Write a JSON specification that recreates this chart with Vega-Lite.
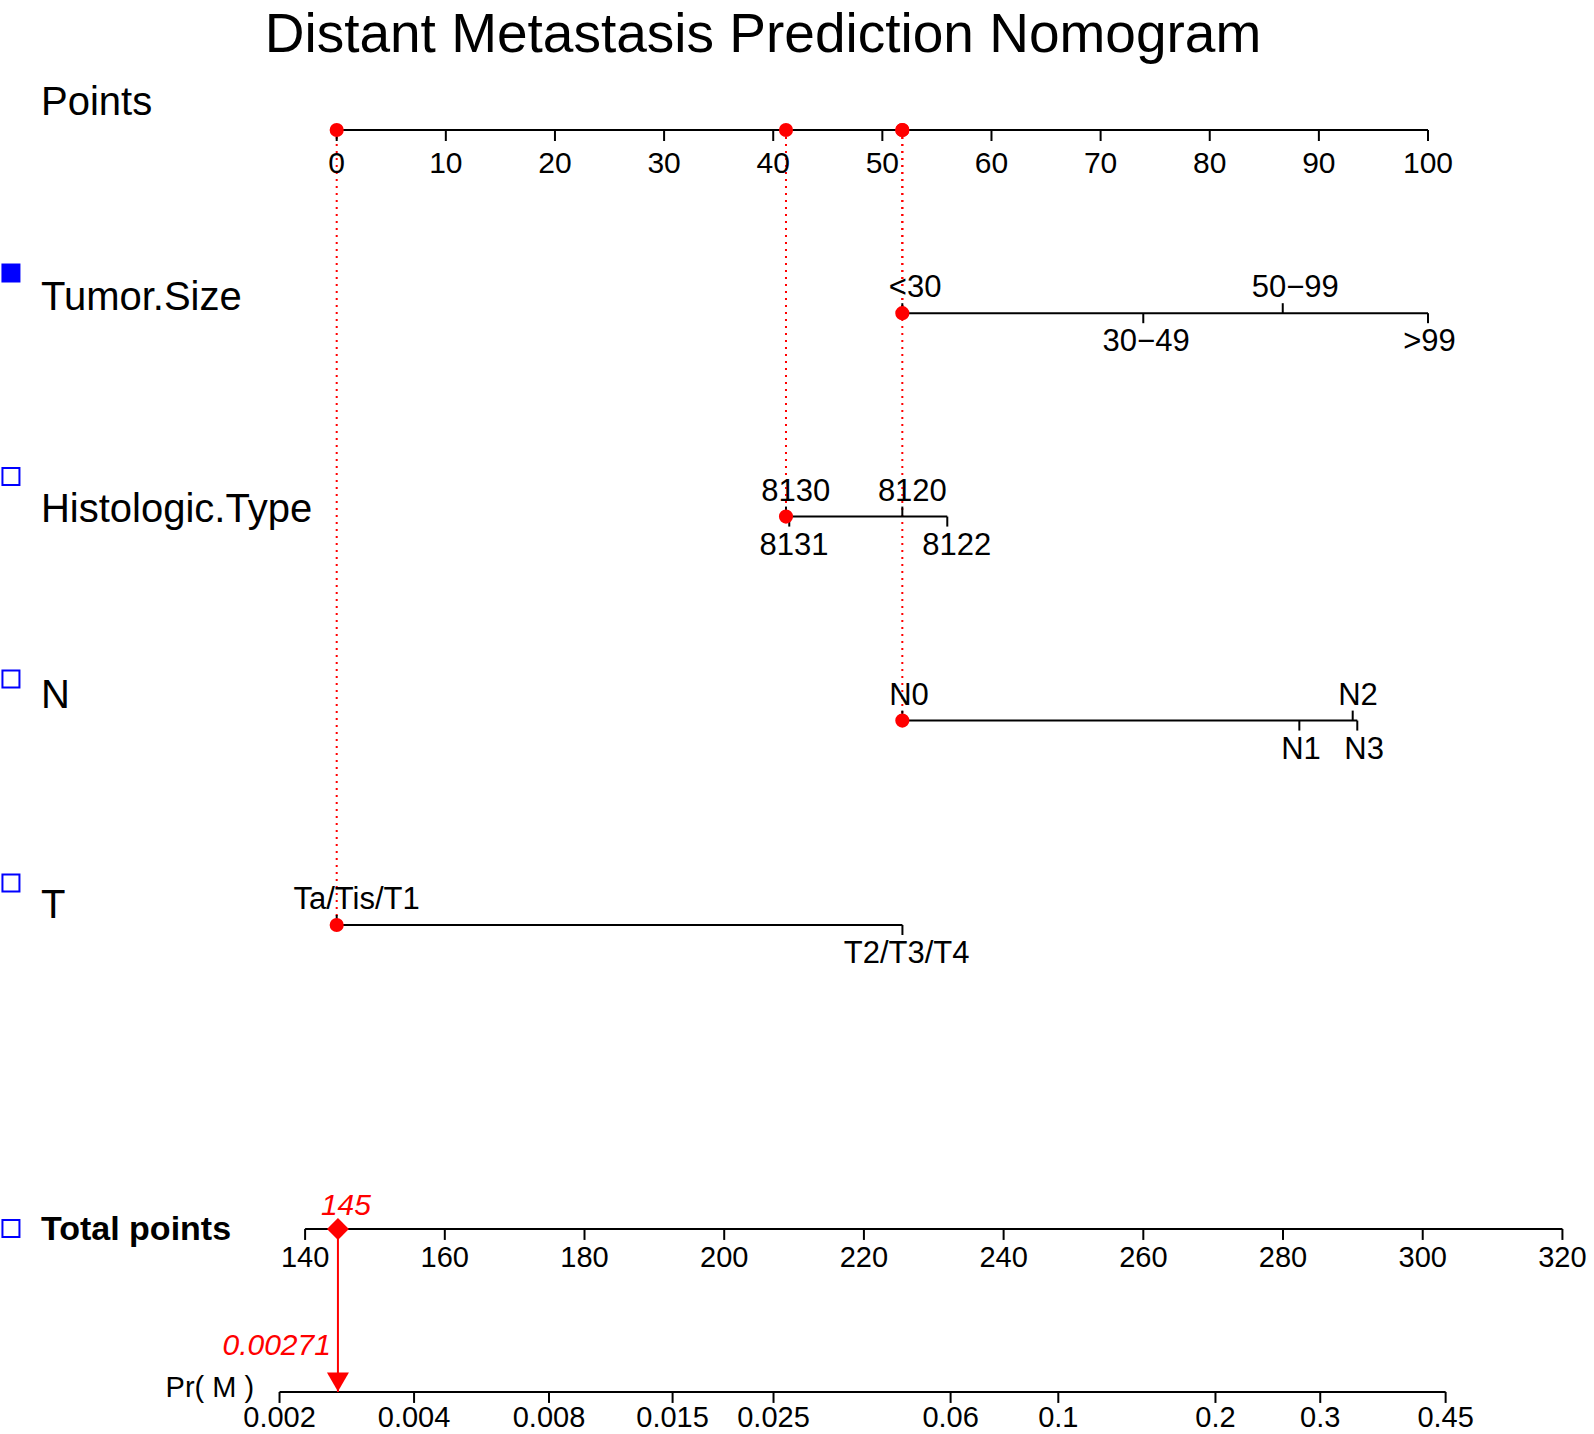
{
  "$schema": "https://vega.github.io/schema/vega-lite/v6.json",
  "width": 1594,
  "height": 1434,
  "autosize": {"type": "none"},
  "padding": 0,
  "background": "white",
  "config": {"view": {"stroke": null}, "font": "Liberation Sans", "text": {"font": "Liberation Sans"}},
  "datasets": {
    "heading": [{"x": 39.06, "level": -0.38, "text": "Distant Metastasis Prediction Nomogram"}],
    "names": [
      {"name": "Points", "x": -27.1, "level": -0.0735, "kind": "var"},
      {"name": "Tumor.Size", "x": -27.1, "level": 0.882, "kind": "var"},
      {"name": "Histologic.Type", "x": -27.1, "level": 1.92, "kind": "var"},
      {"name": "N", "x": -27.1, "level": 2.833, "kind": "var"},
      {"name": "T", "x": -27.1, "level": 3.863, "kind": "var"},
      {"name": "Total points", "x": -27.1, "level": 5.441, "kind": "total"},
      {"name": "Pr( M )", "x": -15.68, "level": 6.21, "kind": "outcome"}
    ],
    "boxes": [
      {"var": "Tumor.Size", "x": -29.85, "level": 0.701, "filled": "yes"},
      {"var": "Histologic.Type", "x": -29.85, "level": 1.699, "filled": "no"},
      {"var": "N", "x": -29.85, "level": 2.691, "filled": "no"},
      {"var": "T", "x": -29.85, "level": 3.691, "filled": "no"},
      {"var": "Total points", "x": -29.85, "level": 5.385, "filled": "no"}
    ],
    "pointsTicks": [
      {"points": 0, "level": 0}, {"points": 10, "level": 0}, {"points": 20, "level": 0},
      {"points": 30, "level": 0}, {"points": 40, "level": 0}, {"points": 50, "level": 0},
      {"points": 60, "level": 0}, {"points": 70, "level": 0}, {"points": 80, "level": 0},
      {"points": 90, "level": 0}, {"points": 100, "level": 0}
    ],
    "lines": [
      {"var": "Points", "from": 0, "to": 100, "level": 0},
      {"var": "Tumor.Size", "from": 51.83, "to": 100, "level": 0.898},
      {"var": "Histologic.Type", "from": 41.17, "to": 55.95, "level": 1.895},
      {"var": "N", "from": 51.83, "to": 93.52, "level": 2.895},
      {"var": "T", "from": 0, "to": 51.84, "level": 3.897}
    ],
    "categories": [
      {"var": "Tumor.Size", "label": "<30", "points": 51.83, "lx": 53.0, "side": "up", "level": 0.898},
      {"var": "Tumor.Size", "label": "30−49", "points": 73.91, "lx": 74.17, "side": "down", "level": 0.898},
      {"var": "Tumor.Size", "label": "50−99", "points": 86.69, "lx": 87.83, "side": "up", "level": 0.898},
      {"var": "Tumor.Size", "label": ">99", "points": 100, "lx": 100.14, "side": "down", "level": 0.898},
      {"var": "Histologic.Type", "label": "8130", "points": 41.17, "lx": 42.06, "side": "up", "level": 1.895},
      {"var": "Histologic.Type", "label": "8131", "points": 41.47, "lx": 41.9, "side": "down", "level": 1.895},
      {"var": "Histologic.Type", "label": "8120", "points": 51.83, "lx": 52.75, "side": "up", "level": 1.895},
      {"var": "Histologic.Type", "label": "8122", "points": 55.95, "lx": 56.81, "side": "down", "level": 1.895},
      {"var": "N", "label": "N0", "points": 51.83, "lx": 52.44, "side": "up", "level": 2.895},
      {"var": "N", "label": "N1", "points": 88.21, "lx": 88.36, "side": "down", "level": 2.895},
      {"var": "N", "label": "N2", "points": 93.1, "lx": 93.58, "side": "up", "level": 2.895},
      {"var": "N", "label": "N3", "points": 93.52, "lx": 94.15, "side": "down", "level": 2.895},
      {"var": "T", "label": "Ta/Tis/T1", "points": 0, "lx": 1.82, "side": "up", "level": 3.897},
      {"var": "T", "label": "T2/T3/T4", "points": 51.84, "lx": 52.22, "side": "down", "level": 3.897}
    ],
    "chosen": [
      {"var": "Tumor.Size", "points": 51.83, "level": 0.898, "top": 0},
      {"var": "Histologic.Type", "points": 41.17, "level": 1.895, "top": 0},
      {"var": "N", "points": 51.83, "level": 2.895, "top": 0},
      {"var": "T", "points": 0, "level": 3.897, "top": 0}
    ],
    "scales": [
      {"scale": "Total points", "from": 140, "to": 320, "level": 5.387},
      {"scale": "Pr( M )", "from": 136.34, "to": 303.28, "level": 6.186}
    ],
    "totalTicks": [
      {"total": 140, "level": 5.387}, {"total": 160, "level": 5.387}, {"total": 180, "level": 5.387},
      {"total": 200, "level": 5.387}, {"total": 220, "level": 5.387}, {"total": 240, "level": 5.387},
      {"total": 260, "level": 5.387}, {"total": 280, "level": 5.387}, {"total": 300, "level": 5.387},
      {"total": 320, "level": 5.387}
    ],
    "prTicks": [
      {"pr": "0.002", "total": 136.34, "level": 6.186}, {"pr": "0.004", "total": 155.6, "level": 6.186},
      {"pr": "0.008", "total": 174.92, "level": 6.186}, {"pr": "0.015", "total": 192.61, "level": 6.186},
      {"pr": "0.025", "total": 207.06, "level": 6.186}, {"pr": "0.06", "total": 232.41, "level": 6.186},
      {"pr": "0.1", "total": 247.83, "level": 6.186}, {"pr": "0.2", "total": 270.33, "level": 6.186},
      {"pr": "0.3", "total": 285.33, "level": 6.186}, {"pr": "0.45", "total": 303.28, "level": 6.186}
    ],
    "result": [
      {"total": 144.7, "level": 5.387, "level2": 6.186, "score": "145", "prob": "0.00271"}
    ]
  },
  "encoding": {
    "y": {"field": "level", "type": "quantitative", "scale": {"domain": [-0.63725, 6.39216], "reverse": true, "nice": false, "zero": false}, "axis": null}
  },
  "layer": [
    {
      "layer": [
        {
          "data": {"name": "heading"},
          "mark": {"type": "text", "fontSize": 55, "align": "center", "baseline": "alphabetic", "color": "black"},
          "encoding": {
            "x": {"field": "x", "type": "quantitative", "scale": {"domain": [-30.853, 115.211], "nice": false, "zero": false}, "axis": null},
            "text": {"field": "text"}
          }
        },
        {
          "data": {"name": "names"},
          "transform": [{"filter": "datum.kind === 'var'"}],
          "mark": {"type": "text", "fontSize": 40, "align": "left", "baseline": "alphabetic", "color": "black"},
          "encoding": {
            "x": {"field": "x", "type": "quantitative", "scale": {"domain": [-30.853, 115.211], "nice": false, "zero": false}, "axis": null},
            "text": {"field": "name"}
          }
        },
        {
          "data": {"name": "names"},
          "transform": [{"filter": "datum.kind === 'total'"}],
          "mark": {"type": "text", "fontSize": 34, "fontWeight": "bold", "align": "left", "baseline": "alphabetic", "color": "black"},
          "encoding": {
            "x": {"field": "x", "type": "quantitative", "scale": {"domain": [-30.853, 115.211], "nice": false, "zero": false}, "axis": null},
            "text": {"field": "name"}
          }
        },
        {
          "data": {"name": "names"},
          "transform": [{"filter": "datum.kind === 'outcome'"}],
          "mark": {"type": "text", "fontSize": 29, "align": "left", "baseline": "alphabetic", "color": "black"},
          "encoding": {
            "x": {"field": "x", "type": "quantitative", "scale": {"domain": [-30.853, 115.211], "nice": false, "zero": false}, "axis": null},
            "text": {"field": "name"}
          }
        },
        {
          "data": {"name": "boxes"},
          "transform": [{"filter": "datum.filled === 'yes'"}],
          "mark": {"type": "point", "shape": "square", "filled": true, "size": 361, "color": "#0000ff", "opacity": 1},
          "encoding": {
            "x": {"field": "x", "type": "quantitative", "scale": {"domain": [-30.853, 115.211], "nice": false, "zero": false}, "axis": null}
          }
        },
        {
          "data": {"name": "boxes"},
          "transform": [{"filter": "datum.filled === 'no'"}],
          "mark": {"type": "point", "shape": "square", "filled": false, "size": 289, "stroke": "#0000ff", "strokeWidth": 2, "opacity": 1},
          "encoding": {
            "x": {"field": "x", "type": "quantitative", "scale": {"domain": [-30.853, 115.211], "nice": false, "zero": false}, "axis": null}
          }
        },
        {
          "data": {"name": "chosen"},
          "mark": {"type": "rule", "color": "#ff0000", "strokeWidth": 2, "strokeDash": [2, 5]},
          "encoding": {
            "x": {"field": "points", "type": "quantitative", "scale": {"domain": [-30.853, 115.211], "nice": false, "zero": false}, "axis": null},
            "y": {"field": "top", "type": "quantitative", "scale": {"domain": [-0.63725, 6.39216], "reverse": true, "nice": false, "zero": false}, "axis": null},
            "y2": {"field": "level"}
          }
        },
        {
          "data": {"name": "lines"},
          "mark": {"type": "rule", "color": "black", "strokeWidth": 2},
          "encoding": {
            "x": {"field": "from", "type": "quantitative", "scale": {"domain": [-30.853, 115.211], "nice": false, "zero": false}, "axis": null},
            "x2": {"field": "to"}
          }
        },
        {
          "data": {"name": "pointsTicks"},
          "mark": {"type": "tick", "orient": "vertical", "color": "black", "thickness": 2, "size": 11, "yOffset": 5.5, "opacity": 1},
          "encoding": {
            "x": {"field": "points", "type": "quantitative", "scale": {"domain": [-30.853, 115.211], "nice": false, "zero": false}, "axis": null}
          }
        },
        {
          "data": {"name": "pointsTicks"},
          "mark": {"type": "text", "fontSize": 30, "align": "center", "baseline": "alphabetic", "dy": 43, "color": "black"},
          "encoding": {
            "x": {"field": "points", "type": "quantitative", "scale": {"domain": [-30.853, 115.211], "nice": false, "zero": false}, "axis": null},
            "text": {"field": "points", "type": "quantitative", "format": "d"}
          }
        },
        {
          "data": {"name": "categories"},
          "transform": [{"filter": "datum.side === 'up'"}],
          "mark": {"type": "tick", "orient": "vertical", "color": "black", "thickness": 2, "size": 10, "yOffset": -5, "opacity": 1},
          "encoding": {
            "x": {"field": "points", "type": "quantitative", "scale": {"domain": [-30.853, 115.211], "nice": false, "zero": false}, "axis": null}
          }
        },
        {
          "data": {"name": "categories"},
          "transform": [{"filter": "datum.side === 'down'"}],
          "mark": {"type": "tick", "orient": "vertical", "color": "black", "thickness": 2, "size": 10, "yOffset": 5, "opacity": 1},
          "encoding": {
            "x": {"field": "points", "type": "quantitative", "scale": {"domain": [-30.853, 115.211], "nice": false, "zero": false}, "axis": null}
          }
        },
        {
          "data": {"name": "categories"},
          "transform": [{"filter": "datum.side === 'up'"}],
          "mark": {"type": "text", "fontSize": 31, "align": "center", "baseline": "alphabetic", "dy": -16, "color": "black"},
          "encoding": {
            "x": {"field": "lx", "type": "quantitative", "scale": {"domain": [-30.853, 115.211], "nice": false, "zero": false}, "axis": null},
            "text": {"field": "label"}
          }
        },
        {
          "data": {"name": "categories"},
          "transform": [{"filter": "datum.side === 'down'"}],
          "mark": {"type": "text", "fontSize": 31, "align": "center", "baseline": "alphabetic", "dy": 38, "color": "black"},
          "encoding": {
            "x": {"field": "lx", "type": "quantitative", "scale": {"domain": [-30.853, 115.211], "nice": false, "zero": false}, "axis": null},
            "text": {"field": "label"}
          }
        },
        {
          "data": {"name": "chosen"},
          "mark": {"type": "point", "shape": "circle", "filled": true, "size": 200, "color": "#ff0000", "opacity": 1},
          "encoding": {
            "x": {"field": "points", "type": "quantitative", "scale": {"domain": [-30.853, 115.211], "nice": false, "zero": false}, "axis": null},
            "y": {"field": "top", "type": "quantitative", "scale": {"domain": [-0.63725, 6.39216], "reverse": true, "nice": false, "zero": false}, "axis": null}
          }
        },
        {
          "data": {"name": "chosen"},
          "mark": {"type": "point", "shape": "circle", "filled": true, "size": 200, "color": "#ff0000", "opacity": 1},
          "encoding": {
            "x": {"field": "points", "type": "quantitative", "scale": {"domain": [-30.853, 115.211], "nice": false, "zero": false}, "axis": null}
          }
        }
      ]
    },
    {
      "layer": [
        {
          "data": {"name": "scales"},
          "mark": {"type": "rule", "color": "black", "strokeWidth": 2},
          "encoding": {
            "x": {"field": "from", "type": "quantitative", "scale": {"domain": [96.321, 324.521], "nice": false, "zero": false}, "axis": null},
            "x2": {"field": "to"}
          }
        },
        {
          "data": {"name": "totalTicks"},
          "mark": {"type": "tick", "orient": "vertical", "color": "black", "thickness": 2, "size": 11, "yOffset": 5.5, "opacity": 1},
          "encoding": {
            "x": {"field": "total", "type": "quantitative", "scale": {"domain": [96.321, 324.521], "nice": false, "zero": false}, "axis": null}
          }
        },
        {
          "data": {"name": "totalTicks"},
          "mark": {"type": "text", "fontSize": 29, "align": "center", "baseline": "alphabetic", "dy": 38, "color": "black"},
          "encoding": {
            "x": {"field": "total", "type": "quantitative", "scale": {"domain": [96.321, 324.521], "nice": false, "zero": false}, "axis": null},
            "text": {"field": "total", "type": "quantitative", "format": "d"}
          }
        },
        {
          "data": {"name": "prTicks"},
          "mark": {"type": "tick", "orient": "vertical", "color": "black", "thickness": 2, "size": 11, "yOffset": 5.5, "opacity": 1},
          "encoding": {
            "x": {"field": "total", "type": "quantitative", "scale": {"domain": [96.321, 324.521], "nice": false, "zero": false}, "axis": null}
          }
        },
        {
          "data": {"name": "prTicks"},
          "mark": {"type": "text", "fontSize": 29, "align": "center", "baseline": "alphabetic", "dy": 35, "color": "black"},
          "encoding": {
            "x": {"field": "total", "type": "quantitative", "scale": {"domain": [96.321, 324.521], "nice": false, "zero": false}, "axis": null},
            "text": {"field": "pr"}
          }
        },
        {
          "data": {"name": "result"},
          "mark": {"type": "rule", "color": "#ff0000", "strokeWidth": 2},
          "encoding": {
            "x": {"field": "total", "type": "quantitative", "scale": {"domain": [96.321, 324.521], "nice": false, "zero": false}, "axis": null},
            "y2": {"field": "level2"}
          }
        },
        {
          "data": {"name": "result"},
          "mark": {"type": "point", "shape": "diamond", "filled": true, "size": 480, "color": "#ff0000", "opacity": 1},
          "encoding": {
            "x": {"field": "total", "type": "quantitative", "scale": {"domain": [96.321, 324.521], "nice": false, "zero": false}, "axis": null}
          }
        },
        {
          "data": {"name": "result"},
          "mark": {"type": "point", "shape": "triangle-down", "filled": true, "size": 484, "color": "#ff0000", "opacity": 1, "yOffset": -10},
          "encoding": {
            "x": {"field": "total", "type": "quantitative", "scale": {"domain": [96.321, 324.521], "nice": false, "zero": false}, "axis": null},
            "y": {"field": "level2", "type": "quantitative", "scale": {"domain": [-0.63725, 6.39216], "reverse": true, "nice": false, "zero": false}, "axis": null}
          }
        },
        {
          "data": {"name": "result"},
          "mark": {"type": "text", "fontSize": 30, "fontStyle": "italic", "align": "center", "baseline": "alphabetic", "dx": 8, "dy": -14, "color": "#ff0000"},
          "encoding": {
            "x": {"field": "total", "type": "quantitative", "scale": {"domain": [96.321, 324.521], "nice": false, "zero": false}, "axis": null},
            "text": {"field": "score"}
          }
        },
        {
          "data": {"name": "result"},
          "mark": {"type": "text", "fontSize": 30, "fontStyle": "italic", "align": "right", "baseline": "alphabetic", "dx": -7, "dy": -37, "color": "#ff0000"},
          "encoding": {
            "x": {"field": "total", "type": "quantitative", "scale": {"domain": [96.321, 324.521], "nice": false, "zero": false}, "axis": null},
            "y": {"field": "level2", "type": "quantitative", "scale": {"domain": [-0.63725, 6.39216], "reverse": true, "nice": false, "zero": false}, "axis": null},
            "text": {"field": "prob"}
          }
        }
      ]
    }
  ],
  "resolve": {"scale": {"x": "independent"}}
}
